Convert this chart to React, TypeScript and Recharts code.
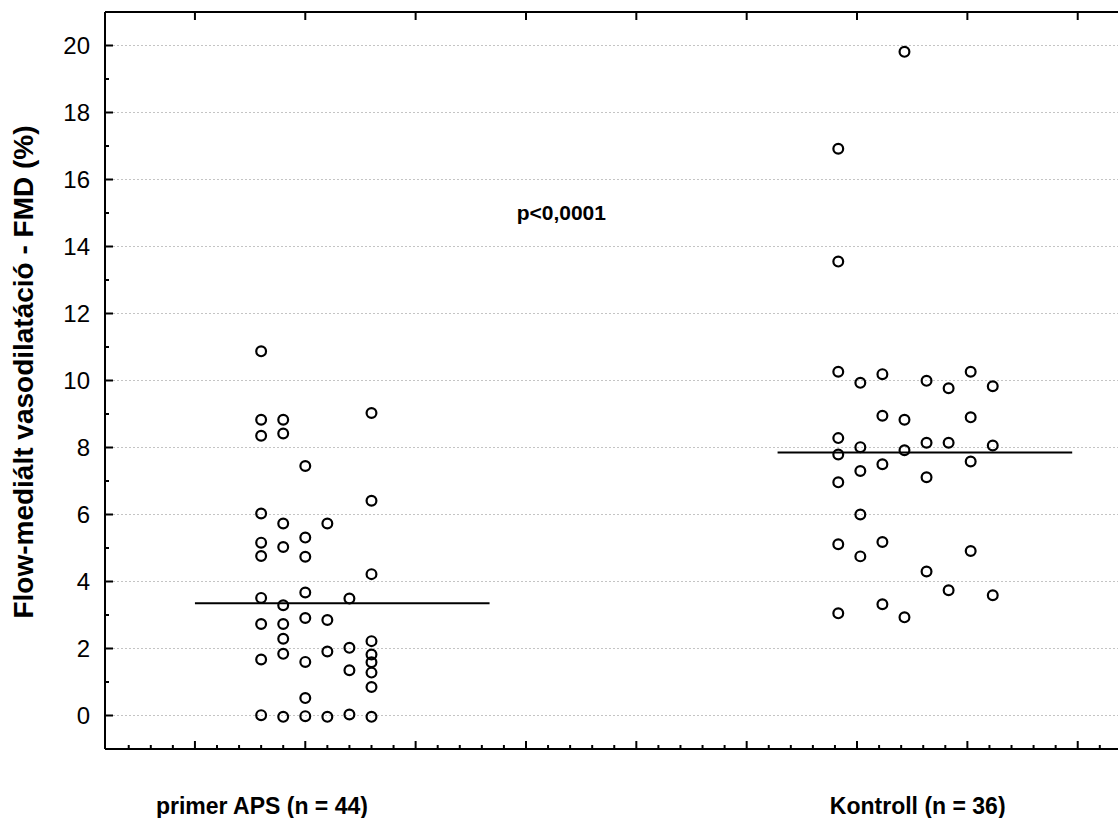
import React from 'react';
import { ScatterChart, Scatter, XAxis, YAxis, ReferenceLine, ReferenceDot } from 'recharts';

// FMD (%) values, one inner array per jitter column
const apsColumns: number[][] = [
  [10.87, 8.83, 8.35, 6.03, 5.16, 4.76, 3.51, 2.73, 1.67, 0.01],
  [8.83, 8.42, 5.73, 5.03, 3.29, 2.73, 2.29, 1.84, -0.04],
  [7.45, 5.31, 4.74, 3.67, 2.91, 1.6, 0.52, -0.02],
  [5.73, 2.85, 1.91, -0.04],
  [3.49, 2.02, 1.35, 0.03],
  [9.03, 6.41, 4.22, 2.22, 1.82, 1.59, 1.28, 0.85, -0.04],
];
const controlColumns: number[][] = [
  [16.92, 13.55, 10.26, 8.28, 7.79, 6.96, 5.11, 3.05],
  [9.93, 8.01, 7.3, 6.0, 4.75],
  [10.19, 8.95, 7.5, 5.18, 3.32],
  [19.81, 8.83, 7.92, 2.93],
  [9.99, 8.14, 7.11, 4.3],
  [9.77, 8.14, 3.74],
  [10.26, 8.9, 7.58, 4.91],
  [9.83, 8.06, 3.59],
];
const groupLabels = ['primer APS (n = 44)', 'Kontroll (n = 36)'];
const groupLineValues = [3.35, 7.85];
const pValueText = 'p<0,0001';
const pValueY = 15;
const yAxisTitle = 'Flow-mediált vasodilatáció - FMD (%)';
const yTickLabels = [0, 2, 4, 6, 8, 10, 12, 14, 16, 18, 20];

// ---- layout (x axis runs in arbitrary units, one major tick per unit) ----
const X_DOMAIN: [number, number] = [-0.815, 8.365];
const Y_DOMAIN: [number, number] = [-1, 21];
const COLUMN_START = [0.6, 5.83];
const COLUMN_STEP = 0.2;
const LINE_SPANS: [number, number][] = [
  [0, 2.67],
  [5.28, 7.95],
];
const LABEL_X = [0.607, 6.55];
const P_X = 3.32;
const FONT = '"Liberation Sans", Arial, sans-serif';

const toPoints = (cols: number[][], start: number) =>
  cols.flatMap((col, ci) => col.map((v) => ({ x: start + ci * COLUMN_STEP, y: v })));

const apsPoints = toPoints(apsColumns, COLUMN_START[0]);
const controlPoints = toPoints(controlColumns, COLUMN_START[1]);

// tick grids: majors at whole units, minors every fifth of a unit
const bottomTicks: number[] = [];
for (let k = -3; k <= 41; k++) bottomTicks.push(k / 5);
const topTickMarks = [0, 1, 2, 3, 4, 5, 6, 7, 8].map((t) => ({ x: t, y: Y_DOMAIN[1] }));
const yTicks: number[] = [];
for (let v = 0; v <= 20; v++) yTicks.push(v);
const gridValues = yTickLabels;

const isWhole = (v: number) => Math.abs(v - Math.round(v)) < 1e-6;

function BottomTick(props: any) {
  const { x, y, payload } = props;
  const v = payload.value;
  const gi = LABEL_X.indexOf(v);
  if (gi >= 0) {
    return (
      <text x={x} y={y + 65} textAnchor="middle" fontFamily={FONT} fontSize={23} fontWeight="bold" fill="#000">
        {groupLabels[gi]}
      </text>
    );
  }
  const len = isWhole(v) ? 8 : 4;
  return <line x1={x} x2={x} y1={y} y2={y - len} stroke="#000" strokeWidth={2} />;
}

// short inward tick hanging from the top frame
const TopTickMark = (props: any) => (
  <line x1={props.cx} x2={props.cx} y1={props.cy} y2={props.cy + 8} stroke="#000" strokeWidth={2} />
);

function LeftTick(props: any) {
  const { x, y, payload } = props;
  const v = payload.value;
  const labelled = yTickLabels.includes(v);
  return (
    <g>
      <line x1={x} x2={x + (labelled ? 8 : 4)} y1={y} y2={y} stroke="#000" strokeWidth={2} />
      {labelled && (
        <text x={x - 15} y={y + 8} textAnchor="end" fontFamily={FONT} fontSize={24} fill="#000">
          {v}
        </text>
      )}
    </g>
  );
}

// rotated axis title, placed in the left margin beside the plot
const YTitle = () => (
  <text
    x={33}
    y={372}
    transform="rotate(-90 33 372)"
    textAnchor="middle"
    fontFamily={FONT}
    fontSize={28}
    fontWeight="bold"
    fill="#000"
  >
    {yAxisTitle}
  </text>
);

const Ring = (props: any) => (
  <circle cx={props.cx} cy={props.cy} r={4.9} fill="none" stroke="#000" strokeWidth={2.2} />
);

const PText = (props: any) => (
  <text x={props.cx} y={props.cy + 7} textAnchor="middle" fontFamily={FONT} fontSize={21} fontWeight="bold" fill="#000">
    {pValueText}
  </text>
);

export default function App() {
  return (
    <div style={{ position: 'fixed', left: 0, top: 0, background: '#fff' }}>
      <ScatterChart width={1118} height={818} margin={{ top: 12, right: 0, bottom: 0, left: 0 }}>
        <XAxis
          type="number"
          dataKey="x"
          domain={X_DOMAIN}
          allowDataOverflow
          ticks={[...bottomTicks, ...LABEL_X]}
          interval={0}
          tickSize={0}
          tickMargin={0}
          tick={BottomTick}
          tickLine={false}
          axisLine={{ stroke: '#000', strokeWidth: 2 }}
          height={69}
        />
        <YAxis
          type="number"
          dataKey="y"
          domain={Y_DOMAIN}
          allowDataOverflow
          ticks={yTicks}
          interval={0}
          tickSize={0}
          tickMargin={0}
          tick={LeftTick}
          tickLine={false}
          axisLine={{ stroke: '#000', strokeWidth: 2 }}
          width={105}
        />
        {gridValues.map((v) => (
          <ReferenceLine key={'g' + v} y={v} stroke="#c4c4c4" strokeDasharray="2 2" strokeWidth={1} />
        ))}
        <ReferenceLine key="frame" y={Y_DOMAIN[1]} stroke="#000" strokeWidth={2} />
        {groupLineValues.map((v, i) => (
          <ReferenceLine
            key={'m' + i}
            segment={[
              { x: LINE_SPANS[i][0], y: v },
              { x: LINE_SPANS[i][1], y: v },
            ]}
            stroke="#000"
            strokeWidth={2}
          />
        ))}
        <ReferenceDot x={P_X} y={pValueY} r={0} shape={PText} />
        <ReferenceDot x={0} y={10} r={0} shape={YTitle} />
        <Scatter data={topTickMarks} shape={TopTickMark} isAnimationActive={false} />
        <Scatter data={apsPoints} shape={Ring} isAnimationActive={false} />
        <Scatter data={controlPoints} shape={Ring} isAnimationActive={false} />
      </ScatterChart>
    </div>
  );
}
